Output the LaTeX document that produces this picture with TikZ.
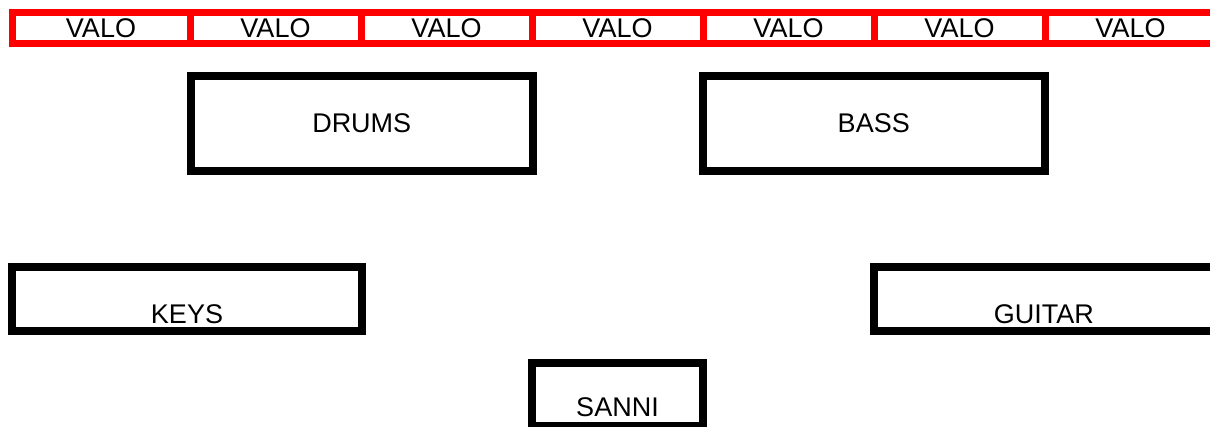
\documentclass[tikz,border=0pt]{standalone}
\usepackage{fontspec}
\setmainfont{Liberation Sans}
\usetikzlibrary{positioning}
\usetikzlibrary{calc}
\definecolor{lightColor}{RGB}{255,0,0}

\tikzset{
  stagebox/.style={draw=black, line width=8pt, inner sep=0pt, outer sep=0pt},
  lightcell/.style={draw=lightColor, line width=7pt, inner sep=0pt, outer sep=0pt,
    minimum height=31pt},
  boxtext/.style={anchor=base, inner sep=0pt},
}

\begin{document}
\begin{tikzpicture}[x=1pt,y=-1pt,font=\fontsize{27}{32}\selectfont]
\useasboundingbox (0,0) rectangle (1210,426);
\clip (0,0) rectangle (1210,426);

% light bar
\node [lightcell, minimum width=178pt] (valo1) at (101,28) {VALO};
\foreach \i/\cx in {2/275.5,3/446.5,4/617.5,5/788.5,6/959.5,7/1130.5}
  \node [lightcell, minimum width=171pt] (valo\i) at (\cx,28) {VALO};

\node [stagebox, minimum width=342.5pt, minimum height=95.5pt] (drums) at (361.75,123.25) {DRUMS};
\node [stagebox, minimum width=341.5pt, minimum height=95.5pt] (bass) at (873.75,123.25) {BASS};

\node [stagebox, minimum width=350pt, minimum height=63.5pt] (keys) at (187,298.75) {};
\node [boxtext] (keystext) at ($(keys.south)+(0,-7.5)$) {KEYS};

\node [stagebox, minimum width=340.5pt, minimum height=63.5pt] (guitar) at (1043.75,298.75) {};
\node [boxtext] (guitartext) at ($(guitar.south)+(0,-7.5)$) {GUITAR};

\node [stagebox, minimum width=171pt, minimum height=63pt] (sanni) at (617.5,394.5) {};
\node [boxtext] (sannitext) at ($(sanni.south)+(0,-10)$) {SANNI};
\end{tikzpicture}
\end{document}
